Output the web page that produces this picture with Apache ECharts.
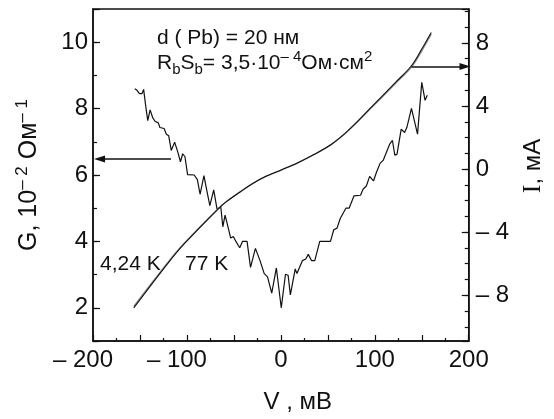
<!DOCTYPE html>
<html>
<head>
<meta charset="utf-8">
<script src="https://cdn.jsdelivr.net/npm/echarts@6/dist/echarts.min.js"></script>
<style>
  html, body { margin: 0; padding: 0; background: #fff; }
  #chart { width: 554px; height: 419px; }
</style>
</head>
<body>
<div id="chart"></div>
<script>
// Tunnel conductance G (10^-2 Ом^-1) versus bias V (мВ)
const gVoltage = [-155.5, -153.1, -150.6, -147.9, -146.1, -143.8, -141.7, -139.2, -136.5, -134.0,
  -130.5, -128.8, -124.3, -121.9, -119.4, -116.7, -113.1, -109.7, -106.9, -104.5,
  -102.1, -99.3, -92.3, -88.9, -86.0, -81.9, -78.4, -75.6, -71.5, -68.0,
  -63.9, -61.8, -59.4, -57.6, -53.4, -50.6, -47.9, -43.8, -40.9, -36.0,
  -32.3, -27.1, -22.2, -17.7, -14.2, -9.7, -4.8, 0.4, 4.9, 7.7,
  10.1, 15.3, 17.1, 22.9, 26.5, 29.2, 32.7, 36.1, 41.4, 52.8,
  56.3, 59.8, 63.2, 69.2, 72.6, 77.8, 84.8, 87.5, 91.0, 94.5,
  98.6, 101.5, 105.6, 109.1, 116.0, 118.8, 121.3, 123.6, 128.1, 131.7,
  134.1, 139.0, 141.0, 145.5, 150.0, 153.5, 155.9];
const conductance = [8.60, 8.55, 8.45, 8.45, 8.58, 8.06, 7.64, 7.96, 7.73, 7.62,
  7.57, 7.43, 7.40, 7.23, 7.18, 6.74, 6.99, 6.69, 6.40, 6.64,
  6.55, 6.01, 6.00, 5.86, 5.42, 5.98, 5.47, 5.08, 5.55, 4.98,
  5.03, 4.44, 4.79, 4.59, 4.10, 4.15, 4.00, 3.81, 4.00, 4.00,
  3.22, 3.79, 3.42, 3.03, 2.93, 2.44, 3.20, 2.00, 3.01, 2.98,
  2.39, 3.17, 3.03, 3.42, 3.47, 3.61, 3.42, 3.42, 4.00, 4.00,
  4.35, 4.40, 4.69, 5.00, 5.00, 5.37, 5.39, 5.57, 5.67, 5.96,
  5.82, 6.06, 6.35, 6.45, 6.94, 7.04, 6.60, 6.62, 7.38, 7.28,
  7.43, 8.01, 7.96, 7.23, 8.79, 8.25, 8.40];

// Current–voltage curves I (мА) at two temperatures
const iVoltage = [-156.6, -120.1, -102.7, -66.3, -57.6, -43.8, -29.8, -15.9, 1.5, 18.8,
  36.1, 53.5, 67.4, 77.8, 95.5, 123.3, 139.0, 150.0, 160.1];
const current77K = [-8.80, -5.96, -4.73, -2.50, -2.05, -1.47, -0.91, -0.46, -0.03, 0.42,
  0.95, 1.56, 2.22, 2.80, 3.88, 5.57, 6.55, 7.61, 8.66];
const current424K = [-8.70, -5.90, -4.69, -2.48, -2.04, -1.46, -0.90, -0.46, -0.03, 0.42,
  0.94, 1.55, 2.20, 2.77, 3.84, 5.50, 6.46, 7.50, 8.55];

// Axis ranges; labelled ticks every 100 мВ, every 2 units of G, every 4 мА
const vRange = [-200, 200];
const gRange = [1, 11];
const iRange = [-10.9, 10.15];
const vLabelStep = 100;
const gLabelStep = 2;
const iLabelStep = 4;

// Arrows pointing each curve to its axis: [V, value] start and end
const gArrow = [[-117, 6.48], [-193, 6.48]];
const iArrow = [[139, 6.5], [196, 6.5]];

const FONT = 'Liberation Sans';
const INK = '#111';

const zip = (xs, ys) => xs.map((x, k) => [x, ys[k]]);
const isStep = (v, step) => {
  const q = v / step;
  return Math.abs(q - Math.round(q)) < 1e-6;
};
const signed = v => (v < 0 ? '– ' + Math.round(Math.abs(v)) : String(Math.round(v)));

const tickLine = { color: INK, width: 1.2 };
const frameLine = { color: INK, width: 1.5 };
const labelFont = { color: INK, fontFamily: FONT, fontSize: 24 };

const chart = echarts.init(document.getElementById('chart'), null, { renderer: 'canvas' });

chart.setOption({
  animation: false,
  backgroundColor: '#fff',
  grid: { left: 93, right: 77, top: 9, bottom: 70, show: true, borderColor: INK, borderWidth: 1.5, backgroundColor: 'transparent' },
  xAxis: {
    type: 'value', min: vRange[0], max: vRange[1], interval: 50,
    axisLine: { onZero: false, lineStyle: frameLine },
    axisTick: { inside: true, length: 6, lineStyle: tickLine },
    minorTick: { show: true, splitNumber: 2, length: 3, lineStyle: tickLine },
    splitLine: { show: false },
    minorSplitLine: { show: false },
    axisLabel: Object.assign({}, labelFont, {
      margin: 7,
      formatter: v => {
        if (!isStep(v, vLabelStep)) return '';
        return v < 0 ? '{neg|– }' + Math.abs(v) + '{pad| }' : String(v);
      },
      rich: {
        neg: Object.assign({}, labelFont),
        pad: Object.assign({}, labelFont, { width: 20 })
      }
    }),
    name: 'V , мВ', nameLocation: 'middle', nameGap: 49,
    nameTextStyle: Object.assign({}, labelFont, { padding: [0, 0, 0, 34] })
  },
  yAxis: [
    {
      // G axis: a tick at every unit, labels on even values
      type: 'value', position: 'left', min: gRange[0], max: gRange[1], interval: 1,
      axisLine: { onZero: false, lineStyle: frameLine },
      axisTick: { inside: true, length: 4, lineStyle: tickLine },
      splitLine: { show: false },
      axisLabel: Object.assign({}, labelFont, {
        margin: 5,
        formatter: v => (isStep(v, gLabelStep) ? String(Math.round(v)) : '')
      }),
      name: 'G, 10{sup|– 2} Ом{sup|– 1}', nameLocation: 'middle', nameRotate: 90, nameGap: 49,
      nameTextStyle: Object.assign({}, labelFont, {
        fontSize: 25, lineHeight: 30,
        rich: { sup: { fontSize: 17, lineHeight: 14, verticalAlign: 'top', fontFamily: FONT, color: INK } }
      })
    },
    {
      // I axis: a tick at every мА, labels every 4 мА
      type: 'value', position: 'right', min: iRange[0], max: iRange[1], splitNumber: 21,
      axisLine: { onZero: false, lineStyle: frameLine },
      axisTick: { inside: true, length: 4, lineStyle: tickLine },
      splitLine: { show: false },
      axisLabel: Object.assign({}, labelFont, {
        margin: 7, showMinLabel: false, showMaxLabel: false,
        formatter: v => (isStep(v, iLabelStep) ? signed(v) : '')
      }),
      name: '{i|I}, мА', nameLocation: 'middle', nameRotate: 90, nameGap: 44,
      nameTextStyle: Object.assign({}, labelFont, {
        padding: [0, 0, 0, 18],
        rich: { i: { fontFamily: 'Liberation Serif', fontSize: 26, color: INK } }
      })
    },
    {
      // longer ticks at the labelled G values
      type: 'value', position: 'left', min: gRange[0], max: gRange[1], splitNumber: 5,
      axisLine: { show: false, onZero: false }, splitLine: { show: false }, axisLabel: { show: false },
      axisTick: { inside: true, length: 7, lineStyle: tickLine }
    },
    {
      // longer ticks at the labelled I values (scale counted in steps of 4 мА)
      type: 'value', position: 'right', min: iRange[0] / iLabelStep, max: iRange[1] / iLabelStep, splitNumber: 5,
      axisLine: { show: false, onZero: false }, splitLine: { show: false }, axisLabel: { show: false },
      axisTick: { inside: true, length: 7, lineStyle: tickLine }
    }
  ],
  series: [
    {
      name: 'G', type: 'line', yAxisIndex: 0, data: zip(gVoltage, conductance),
      symbol: 'none', lineStyle: { color: INK, width: 1.2 }, silent: true,
      markLine: {
        silent: true, symbol: ['none', 'triangle'], symbolSize: [7, 11],
        label: { show: false },
        lineStyle: { color: INK, width: 1.5, type: 'solid' },
        data: [[{ coord: gArrow[0] }, { coord: gArrow[1] }]]
      }
    },
    {
      name: '4,24 K', type: 'line', yAxisIndex: 1, data: zip(iVoltage, current424K),
      symbol: 'none', smooth: 0.35, lineStyle: { color: '#888', width: 1.3 }, silent: true
    },
    {
      name: '77 K', type: 'line', yAxisIndex: 1, data: zip(iVoltage, current77K),
      symbol: 'none', smooth: 0.35, lineStyle: { color: INK, width: 1.1 }, silent: true,
      markLine: {
        silent: true, symbol: ['none', 'triangle'], symbolSize: [7, 11],
        label: { show: false },
        lineStyle: { color: INK, width: 1.5, type: 'solid' },
        data: [[{ coord: iArrow[0] }, { coord: iArrow[1] }]]
      }
    }
  ],
  graphic: [
    {
      type: 'text', x: 157, y: 38.5,
      style: { text: 'd ( Pb) = 20 нм', fontFamily: FONT, fontSize: 21, fill: INK, verticalAlign: 'middle' }
    },
    {
      type: 'text', x: 157, y: 63.5,
      style: {
        text: 'R{sub|b}S{sub|b}= 3,5·10{sup|– 4}Ом·см{sup|2}',
        fontFamily: FONT, fontSize: 21, fill: INK, verticalAlign: 'middle', lineHeight: 28,
        rich: {
          sub: { fontFamily: FONT, fontSize: 15, fill: INK, lineHeight: 20, verticalAlign: 'bottom' },
          sup: { fontFamily: FONT, fontSize: 15, fill: INK, lineHeight: 14, verticalAlign: 'top' }
        }
      }
    },
    {
      type: 'text', x: 100, y: 264,
      style: { text: '4,24 K', fontFamily: FONT, fontSize: 21, fill: INK, verticalAlign: 'middle' }
    },
    {
      type: 'text', x: 185, y: 264,
      style: { text: '77 K', fontFamily: FONT, fontSize: 21, fill: INK, verticalAlign: 'middle' }
    }
  ]
});
</script>
</body>
</html>
